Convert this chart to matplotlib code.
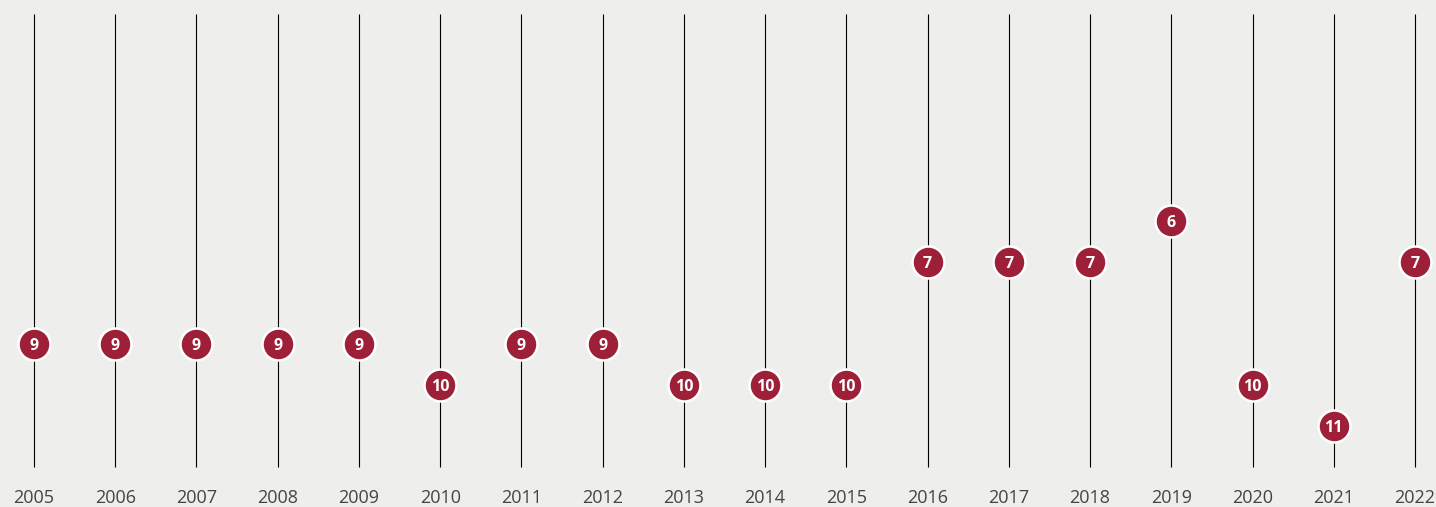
import matplotlib.pyplot as plt

years = list(range(2005, 2023))
ranks = [9, 9, 9, 9, 9, 10, 9, 9, 10, 10, 10, 7, 7, 7, 6, 10, 11, 7]

bg = '#eeeeec'
red = '#9e1f38'

fig = plt.figure(figsize=(14.36, 5.07), dpi=100, facecolor=bg)
ax = fig.add_axes([0, 0, 1, 1], facecolor=bg)

ax.vlines(years, 0.95, 12.0, color='black', lw=0.8, zorder=1)
ax.plot(years, ranks, 'o', ms=23, mfc=red, mec='white', mew=1.8, ls='none', zorder=2)

for yr, r in zip(years, ranks):
    ax.text(yr, r + 0.04, str(r), ha='center', va='center', color='white',
            fontsize=11.5, fontweight='bold', family='Open Sans', zorder=3)
    ax.text(yr, 12.76, str(yr), ha='center', va='center', color='#444444',
            fontsize=13, family='Open Sans')

ax.set_xlim(2004.5815, 2022.2585)
ax.set_ylim(12.976, 0.61)
ax.axis('off')

plt.savefig('out.png', dpi=100, facecolor=bg)
